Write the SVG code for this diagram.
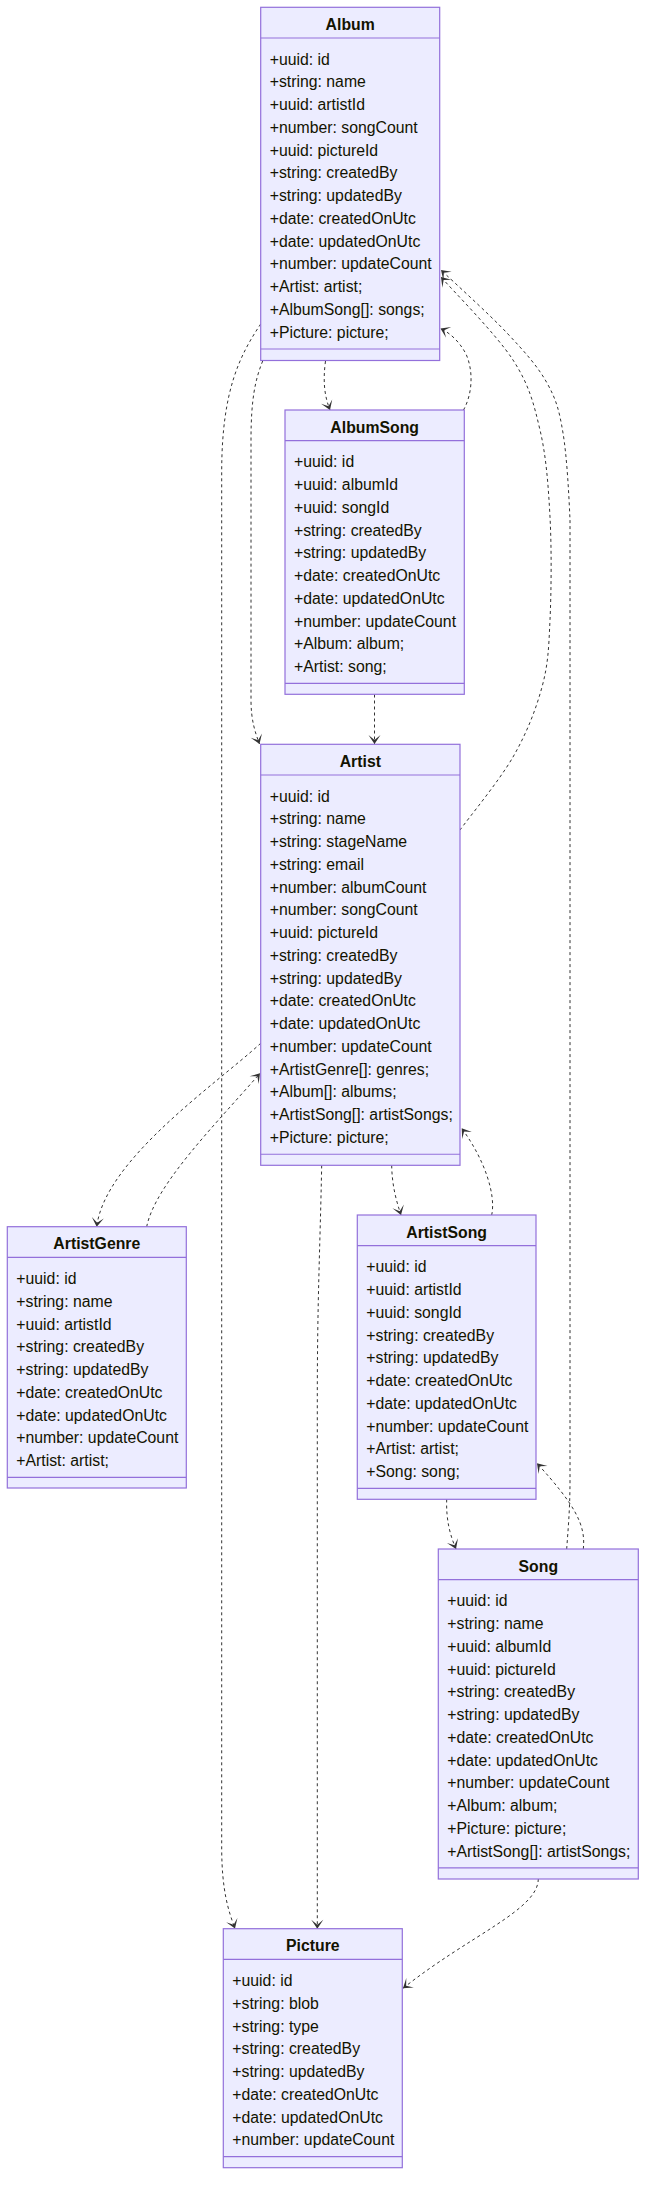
<svg xmlns="http://www.w3.org/2000/svg" width="654" height="2201" viewBox="0 0 654 2201">
<style>
.box{fill:#ECECFF;stroke:#9370DB;stroke-width:1.2}
.sep{stroke:#9370DB;stroke-width:1.2}
.title{font-family:"Liberation Sans",Arial,sans-serif;font-size:15.8px;font-weight:bold;fill:#131300;text-anchor:middle}
.mem{font-family:"Liberation Sans",Arial,sans-serif;font-size:15.8px;fill:#131300}
.rel{fill:none;stroke:#333;stroke-width:1;stroke-dasharray:3 3}
</style>
<defs>
<marker id="dep" markerUnits="userSpaceOnUse" markerWidth="20" markerHeight="16" refX="18" refY="7" orient="auto" viewBox="0 0 20 14">
<path d="M18,7 L9,13 L14,7 L9,1 Z" fill="#333"/>
</marker>
</defs>
<rect width="654" height="2201" fill="#ffffff"/>

<g id="connectors">
<path class="rel" marker-end="url(#dep)" d="M325.5,361 C323,380 324,395 330,410"/>
<path class="rel" marker-end="url(#dep)" d="M463.5,410 C472,395 474,372 466,354 C459,341 450,333 440.5,328.5"/>
<path class="rel" marker-end="url(#dep)" d="M262.7,361 C255,380 251,400 251,440 L251,700 C251,720 255,732 259.5,744"/>
<path class="rel" marker-end="url(#dep)" d="M374.5,694.5 L374.5,744"/>
<path class="rel" marker-end="url(#dep)" d="M260.7,324 C240,355 222,390 221.7,470 L221.7,1850 C222,1890 228,1910 235,1928.5"/>
<path class="rel" marker-end="url(#dep)" d="M460,830 C468.8,817.8 499.3,780.8 513,757 C526.7,733.2 535.8,709.8 542,687 C548.2,664.2 548.7,648.3 550,620 C551.3,591.7 551.7,548.7 550,517 C548.3,485.3 546.2,456.2 540,430 C533.8,403.8 529.5,385.5 513,360 C496.5,334.5 453,290.8 441,277"/>
<path class="rel" marker-end="url(#dep)" d="M566.7,1549 C568,1530 570,1510 570,1480 L570,520 C568.8,492.2 566.8,455.8 563,433 C559.2,410.2 556.3,399.7 547,383 C537.7,366.3 524.7,351.8 507,333 C489.3,314.2 452,280.5 441,270"/>
<path class="rel" marker-end="url(#dep)" d="M260.7,1043.3 C215,1085 105,1160 96.7,1226.7"/>
<path class="rel" marker-end="url(#dep)" d="M146.7,1226.7 C155,1185 215,1125 260,1073.3"/>
<path class="rel" marker-end="url(#dep)" d="M391.7,1165.3 C392,1185 396,1200 401,1215"/>
<path class="rel" marker-end="url(#dep)" d="M491.7,1215 C496,1195 485,1160 461.7,1128.3"/>
<path class="rel" marker-end="url(#dep)" d="M446.7,1499.3 C446,1520 450,1535 456,1549"/>
<path class="rel" marker-end="url(#dep)" d="M583.3,1549 C586,1525 575,1505 537,1463.3"/>
<path class="rel" marker-end="url(#dep)" d="M321.7,1165.3 C320,1250 317.3,1300 317.3,1400 L317.3,1928.7"/>
<path class="rel" marker-end="url(#dep)" d="M538.3,1879 C538,1910 470,1935 403,1988.3"/>
</g>

<g id="Album" transform="translate(260.7,7.3)">
<rect class="box" x="0" y="0" width="179" height="353.2"/>
<line class="sep" x1="0" y1="30.7" x2="179" y2="30.7"/>
<line class="sep" x1="0" y1="341.7" x2="179" y2="341.7"/>
<text class="title" x="89.5" y="22.8">Album</text>
<text class="mem" x="9" y="57.4">+uuid: id</text>
<text class="mem" x="9" y="80.15">+string: name</text>
<text class="mem" x="9" y="102.9">+uuid: artistId</text>
<text class="mem" x="9" y="125.65">+number: songCount</text>
<text class="mem" x="9" y="148.4">+uuid: pictureId</text>
<text class="mem" x="9" y="171.15">+string: createdBy</text>
<text class="mem" x="9" y="193.9">+string: updatedBy</text>
<text class="mem" x="9" y="216.65">+date: createdOnUtc</text>
<text class="mem" x="9" y="239.4">+date: updatedOnUtc</text>
<text class="mem" x="9" y="262.15">+number: updateCount</text>
<text class="mem" x="9" y="284.9">+Artist: artist;</text>
<text class="mem" x="9" y="307.65">+AlbumSong[]: songs;</text>
<text class="mem" x="9" y="330.4">+Picture: picture;</text>
</g>

<g id="AlbumSong" transform="translate(285,410)">
<rect class="box" x="0" y="0" width="179.3" height="284.3"/>
<line class="sep" x1="0" y1="30.7" x2="179.3" y2="30.7"/>
<line class="sep" x1="0" y1="273.45" x2="179.3" y2="273.45"/>
<text class="title" x="89.65" y="22.8">AlbumSong</text>
<text class="mem" x="9" y="57.4">+uuid: id</text>
<text class="mem" x="9" y="80.15">+uuid: albumId</text>
<text class="mem" x="9" y="102.9">+uuid: songId</text>
<text class="mem" x="9" y="125.65">+string: createdBy</text>
<text class="mem" x="9" y="148.4">+string: updatedBy</text>
<text class="mem" x="9" y="171.15">+date: createdOnUtc</text>
<text class="mem" x="9" y="193.9">+date: updatedOnUtc</text>
<text class="mem" x="9" y="216.65">+number: updateCount</text>
<text class="mem" x="9" y="239.4">+Album: album;</text>
<text class="mem" x="9" y="262.15">+Artist: song;</text>
</g>

<g id="Artist" transform="translate(260.7,744.3)">
<rect class="box" x="0" y="0" width="199.3" height="421"/>
<line class="sep" x1="0" y1="30.7" x2="199.3" y2="30.7"/>
<line class="sep" x1="0" y1="409.95" x2="199.3" y2="409.95"/>
<text class="title" x="99.65" y="22.8">Artist</text>
<text class="mem" x="9" y="57.4">+uuid: id</text>
<text class="mem" x="9" y="80.15">+string: name</text>
<text class="mem" x="9" y="102.9">+string: stageName</text>
<text class="mem" x="9" y="125.65">+string: email</text>
<text class="mem" x="9" y="148.4">+number: albumCount</text>
<text class="mem" x="9" y="171.15">+number: songCount</text>
<text class="mem" x="9" y="193.9">+uuid: pictureId</text>
<text class="mem" x="9" y="216.65">+string: createdBy</text>
<text class="mem" x="9" y="239.4">+string: updatedBy</text>
<text class="mem" x="9" y="262.15">+date: createdOnUtc</text>
<text class="mem" x="9" y="284.9">+date: updatedOnUtc</text>
<text class="mem" x="9" y="307.65">+number: updateCount</text>
<text class="mem" x="9" y="330.4">+ArtistGenre[]: genres;</text>
<text class="mem" x="9" y="353.15">+Album[]: albums;</text>
<text class="mem" x="9" y="375.9">+ArtistSong[]: artistSongs;</text>
<text class="mem" x="9" y="398.65">+Picture: picture;</text>
</g>

<g id="ArtistGenre" transform="translate(7.3,1226.7)">
<rect class="box" x="0" y="0" width="179" height="261.3"/>
<line class="sep" x1="0" y1="30.7" x2="179" y2="30.7"/>
<line class="sep" x1="0" y1="250.7" x2="179" y2="250.7"/>
<text class="title" x="89.5" y="22.8">ArtistGenre</text>
<text class="mem" x="9" y="57.4">+uuid: id</text>
<text class="mem" x="9" y="80.15">+string: name</text>
<text class="mem" x="9" y="102.9">+uuid: artistId</text>
<text class="mem" x="9" y="125.65">+string: createdBy</text>
<text class="mem" x="9" y="148.4">+string: updatedBy</text>
<text class="mem" x="9" y="171.15">+date: createdOnUtc</text>
<text class="mem" x="9" y="193.9">+date: updatedOnUtc</text>
<text class="mem" x="9" y="216.65">+number: updateCount</text>
<text class="mem" x="9" y="239.4">+Artist: artist;</text>
</g>

<g id="ArtistSong" transform="translate(357.3,1215)">
<rect class="box" x="0" y="0" width="178.7" height="284.3"/>
<line class="sep" x1="0" y1="30.7" x2="178.7" y2="30.7"/>
<line class="sep" x1="0" y1="273.45" x2="178.7" y2="273.45"/>
<text class="title" x="89.35" y="22.8">ArtistSong</text>
<text class="mem" x="9" y="57.4">+uuid: id</text>
<text class="mem" x="9" y="80.15">+uuid: artistId</text>
<text class="mem" x="9" y="102.9">+uuid: songId</text>
<text class="mem" x="9" y="125.65">+string: createdBy</text>
<text class="mem" x="9" y="148.4">+string: updatedBy</text>
<text class="mem" x="9" y="171.15">+date: createdOnUtc</text>
<text class="mem" x="9" y="193.9">+date: updatedOnUtc</text>
<text class="mem" x="9" y="216.65">+number: updateCount</text>
<text class="mem" x="9" y="239.4">+Artist: artist;</text>
<text class="mem" x="9" y="262.15">+Song: song;</text>
</g>

<g id="Song" transform="translate(438.3,1549)">
<rect class="box" x="0" y="0" width="200" height="330"/>
<line class="sep" x1="0" y1="30.7" x2="200" y2="30.7"/>
<line class="sep" x1="0" y1="318.95" x2="200" y2="318.95"/>
<text class="title" x="100" y="22.8">Song</text>
<text class="mem" x="9" y="57.4">+uuid: id</text>
<text class="mem" x="9" y="80.15">+string: name</text>
<text class="mem" x="9" y="102.9">+uuid: albumId</text>
<text class="mem" x="9" y="125.65">+uuid: pictureId</text>
<text class="mem" x="9" y="148.4">+string: createdBy</text>
<text class="mem" x="9" y="171.15">+string: updatedBy</text>
<text class="mem" x="9" y="193.9">+date: createdOnUtc</text>
<text class="mem" x="9" y="216.65">+date: updatedOnUtc</text>
<text class="mem" x="9" y="239.4">+number: updateCount</text>
<text class="mem" x="9" y="262.15">+Album: album;</text>
<text class="mem" x="9" y="284.9">+Picture: picture;</text>
<text class="mem" x="9" y="307.65">+ArtistSong[]: artistSongs;</text>
</g>

<g id="Picture" transform="translate(223.3,1928.7)">
<rect class="box" x="0" y="0" width="179" height="239"/>
<line class="sep" x1="0" y1="30.7" x2="179" y2="30.7"/>
<line class="sep" x1="0" y1="227.95" x2="179" y2="227.95"/>
<text class="title" x="89.5" y="22.8">Picture</text>
<text class="mem" x="9" y="57.4">+uuid: id</text>
<text class="mem" x="9" y="80.15">+string: blob</text>
<text class="mem" x="9" y="102.9">+string: type</text>
<text class="mem" x="9" y="125.65">+string: createdBy</text>
<text class="mem" x="9" y="148.4">+string: updatedBy</text>
<text class="mem" x="9" y="171.15">+date: createdOnUtc</text>
<text class="mem" x="9" y="193.9">+date: updatedOnUtc</text>
<text class="mem" x="9" y="216.65">+number: updateCount</text>
</g>
</svg>
